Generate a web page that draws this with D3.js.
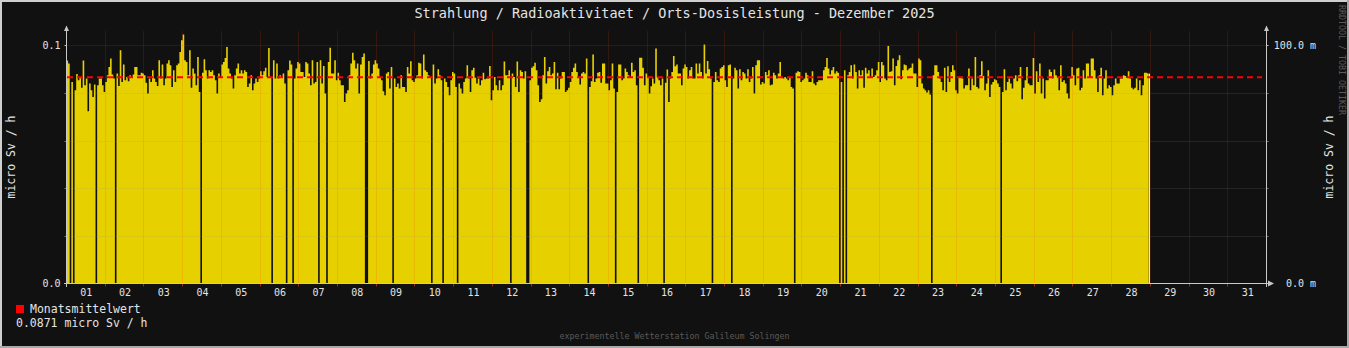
<!DOCTYPE html>
<html>
<head>
<meta charset="utf-8">
<script src="https://cdn.jsdelivr.net/npm/d3@7"></script>
<style>
  html, body { margin: 0; padding: 0; background: #111111; }
  svg { display: block; }
  text { font-family: "DejaVu Sans Mono", monospace; }
</style>
</head>
<body>
<svg id="chart" width="1349" height="348"></svg>
<script>
// ---------------- data ----------------
const chartTitle = "Strahlung / Radioaktivitaet / Orts-Dosisleistung - Dezember 2025";
const unitLabel = "micro Sv / h";
const footerText = "experimentelle Wetterstation Galileum Solingen";
const creditText = "RRDTOOL / TOBI OETIKER";
const legendName = "Monatsmittelwert";
const monthlyMean = 0.0871;
const hoursInMonth = 744;

const dayLabels = ["01","02","03","04","05","06","07","08","09","10","11","12","13","14","15","16",
  "17","18","19","20","21","22","23","24","25","26","27","28","29","30","31"];

const leftTicks = [0.0, 0.1];
const minorTicks = [0.02, 0.04, 0.06, 0.08];
const rightTickLabels = ["0.0 m", "100.0 m"];

// hourly dose rate (micro Sv / h) from 1 Dec 00:00, null = no data
const hourlyDose = [
  .0937,.0924,null,.0847,null,.0812,.0880,.0854,.0867,.0822,.0937,.0833,.0861,.0724,.0840,.0812,.0784,.0836,null,.0833,.0861,.0861,.0833,.0805,
  .0847,.0875,.0910,.0945,.0878,.0861,null,.0882,.0830,.0980,.0847,.0920,.0854,.0868,.0850,.0875,.0864,.0878,.0910,.0910,.0875,.0875,.0885,.0882,
  .0875,.0844,.0798,.0861,.0847,.0896,.0861,.0847,.0830,.0938,.0861,.0920,.0833,.0861,.0924,.0938,.0917,.0826,.0896,.0847,.0917,.0924,.0973,.1022,
  .1046,.0938,.0931,.0875,.0980,.0822,.0903,.0882,.0833,.0952,.0805,null,.0886,.0942,.0896,.0861,.0896,.0889,.0896,.0875,.0854,.0798,.0882,.0868,
  .0920,.0931,.0948,.0994,.0903,.0882,.0861,.0819,.0875,.0903,.0924,.0882,.0896,.0882,.0896,.0889,.0826,.0840,.0875,.0812,.0840,.0861,.0847,.0861,
  .0892,.0875,.0892,.0906,.0868,.0990,.0868,null,.0938,.0861,.0924,.0861,.0875,.0864,.0882,.0840,null,.0896,.0937,.0920,null,.0861,.0903,.0931,
  .0924,.0889,.0889,.0868,.0931,.0924,.0882,.0833,.0938,.0840,.0847,.0931,null,.0938,.0840,.0914,.0798,null,.0931,.0991,.0882,.0882,.0938,.0854,
  .0885,.0854,.0833,.0833,.0763,.0798,.0812,.0875,.0924,.0970,.0938,.0903,.0924,.0798,.0920,.0952,.0966,null,null,.0935,.0861,.0882,.0920,.0938,
  .0924,.0903,.0868,.0854,.0808,.0791,.0882,.0889,.0819,.0910,null,.0861,.0826,.0840,.0819,.0875,.0826,.0826,.0805,.0910,.0882,.0934,.0854,.0847,
  .0861,.0875,.0928,.0924,.0861,.0962,.0896,.0889,.0875,.0868,null,.0920,.0840,.0861,.0900,.0875,.0854,null,.0861,.0847,.0826,.0791,.0854,.0889,
  .0882,.0826,null,.0840,.0819,.0798,.0847,.0861,.0917,.0861,.0805,.0896,.0906,.0864,.0840,.0861,.0833,.0854,.0886,.0858,.0861,.0861,.0914,.0770,
  .0812,.0868,.0833,.0812,.0854,.0812,.0833,.0933,.0875,.0875,.0896,null,.0882,.0868,.0826,.0933,.0805,.0896,.0889,.0861,.0892,null,null,.0854,
  .0906,.0913,.0928,.0896,.0833,.0763,.0774,.0875,.0952,.0840,.0892,.0910,.0875,.0882,.0931,.0816,.0886,.0816,.0861,.0889,.0889,.0805,.0812,.0822,
  .0847,.0889,.0906,.0924,.0889,.0868,.0836,.0882,.0889,.0882,.0945,null,.0826,.0850,.0962,.0847,.0861,.0885,.0889,.0844,.0924,.0924,.0840,.0840,
  .0812,.0854,.0924,.0819,null,.0805,.0920,.0920,.0854,.0861,.0903,.0889,.0875,.0868,.0928,.0889,.0896,.0833,null,.0949,.0949,.0906,.0833,.0882,
  .0868,.0798,.0829,.0861,.0840,.0987,.0868,.0854,.0833,.0861,null,.0844,.0899,.0763,.0861,.0889,.0956,.0913,.0920,.0882,.0882,.0833,.0903,.0920,
  .0910,.0861,.0896,.0910,.0861,.0861,.0924,.0882,.0924,.0889,.0861,.1004,.0882,.0935,.0900,.0861,null,.0847,.0889,.0854,.0847,.0903,.0910,.0917,
  .0854,.0826,.0917,.0920,null,.0861,.0906,.0896,.0819,.0900,.0854,.0889,.0882,.0861,.0900,.0847,.0861,.0910,.0798,.0917,.0938,.0938,.0836,.0847,
  .0840,.0889,.0875,.0896,.0833,.0836,.0886,.0875,.0861,.0882,.0931,.0864,.0861,.0868,.0861,.0854,.0868,.0826,.0819,null,.0886,.0892,.0889,.0847,
  .0854,.0861,.0885,.0875,.0847,.0847,.0892,.0840,.0833,.0847,.0854,.0854,.0854,.0896,.0910,.0948,.0903,.0878,.0896,.0910,.0882,.0892,.0885,null,
  .0847,null,.0896,null,.0875,.0889,.0917,.0861,.0920,.0889,.0819,.0896,.0875,.0896,.0822,.0906,.0882,.0896,.0868,.0903,.0868,.0875,.0896,.0931,
  .0847,.0931,.0917,.0861,.0854,.0998,.0889,.0892,.0945,.0833,.0914,.0938,.0959,.0858,.0896,.0920,.0917,.0896,.0903,.0906,.0924,.0882,.0882,.0826,
  .0945,.0938,.0840,.0819,.0812,.0802,.0812,.0794,null,.0875,.0917,.0917,.0889,.0861,.0847,.0812,.0906,.0805,.0913,.0847,.0889,.0917,.0896,.0812,
  .0798,.0868,.0868,.0861,.0819,.0833,.0833,.0903,.0812,.0861,.0833,.0952,.0826,.0819,.0875,.0934,.0872,.0812,.0840,.0896,.0784,.0836,.0847,.0858,
  .0854,.0840,.0826,null,.0805,.0900,.0812,.0847,.0861,.0840,.0819,.0861,.0875,.0850,.0875,.0910,.0774,.0822,.0854,.0910,.0840,.0833,.0833,.0948,
  .0798,.0892,.0847,.0924,.0798,.0861,.0777,.0854,.0854,.0899,.0889,.0861,.0899,.0875,.0868,.0812,.0917,.0847,.0854,.0840,.0798,.0777,.0861,.0910,
  .0875,.0833,.0903,.0906,.0812,.0822,.0896,.0861,.0924,.0924,.0868,.0945,.0945,.0896,.0861,.0805,.0875,.0906,.0791,.0861,.0896,.0819,.0833,.0826,
  .0791,.0833,.0861,.0840,.0840,.0861,.0861,.0875,.0872,.0864,.0892,.0861,.0822,.0816,.0822,.0861,.0812,.0854,.0791,.0833,.0886,.0886,.0882
];

// ---------------- drawing ----------------
const svg = d3.select("#chart");
const W = 1349, H = 348;
const plotLeft = 66.5, plotRight = 1266.5, plotTop = 31.5, plotBottom = 283.5;

const x = d3.scaleLinear().domain([0, hoursInMonth]).range([plotLeft, plotRight]);
const y = d3.scaleLinear().domain([0, 0.1]).range([plotBottom, 45.5]);

const COL = {
  bg: "#111111", area: "#e6d000", axis: "#c8c8c8", text: "#e4e4e4",
  mgrid: "rgba(255,60,10,0.30)", grid: "rgba(150,150,150,0.30)",
  tick: "rgba(255,60,40,0.6)", mean: "#ff0000", dim: "#5a5a5a"
};

// background and frame
svg.append("rect").attr("width", W).attr("height", H).attr("fill", COL.bg);
svg.append("rect").attr("x", 0).attr("y", 0).attr("width", W).attr("height", 2).attr("fill", "#cfcfcf");
svg.append("rect").attr("x", 0).attr("y", 0).attr("width", 2).attr("height", H).attr("fill", "#cfcfcf");
svg.append("rect").attr("x", 0).attr("y", H - 2).attr("width", W).attr("height", 2).attr("fill", "#a8a8a8");
svg.append("rect").attr("x", W - 2).attr("y", 0).attr("width", 2).attr("height", H).attr("fill", "#a8a8a8");

// area data (step shape)
const pts = [];
hourlyDose.forEach((v, i) => {
  if (v == null) { pts.push({ gap: true }); return; }
  pts.push({ h: i, v }, { h: i + 1, v });
});
const area = d3.area()
  .defined(d => !d.gap)
  .x(d => x(d.h))
  .y0(y(0))
  .y1(d => y(d.v));
svg.append("path").datum(pts).attr("d", area).attr("fill", COL.area);

// end-of-data marker line
const lastIdx = hourlyDose.length;
svg.append("line")
  .attr("x1", Math.round(x(lastIdx)) + 0.5).attr("x2", Math.round(x(lastIdx)) + 0.5)
  .attr("y1", y(hourlyDose[lastIdx - 1])).attr("y2", y(0))
  .attr("stroke", "#f4eeb8").attr("stroke-width", 1);

// grid
const gridG = svg.append("g");
// minor horizontal
minorTicks.forEach(v => {
  const yy = Math.round(y(v)) + 0.5;
  gridG.append("line").attr("x1", plotLeft).attr("x2", plotRight).attr("y1", yy).attr("y2", yy)
    .attr("stroke", COL.grid).attr("stroke-dasharray", "1,1");
  gridG.append("line").attr("x1", plotLeft - 2).attr("x2", plotLeft).attr("y1", yy).attr("y2", yy).attr("stroke", "#777");
  gridG.append("line").attr("x1", plotRight).attr("x2", plotRight + 2).attr("y1", yy).attr("y2", yy).attr("stroke", "#777");
});
// major horizontal (0.1)
gridG.append("line").attr("x1", plotLeft).attr("x2", plotRight).attr("y1", y(0.1)).attr("y2", y(0.1))
  .attr("stroke", COL.mgrid).attr("stroke-dasharray", "1,1");
gridG.append("line").attr("x1", plotLeft - 2).attr("x2", plotLeft).attr("y1", y(0.1)).attr("y2", y(0.1)).attr("stroke", "#bbb");
gridG.append("line").attr("x1", plotRight).attr("x2", plotRight + 2).attr("y1", y(0.1)).attr("y2", y(0.1)).attr("stroke", "#bbb");
// vertical day boundaries
d3.range(1, dayLabels.length).forEach(d => {
  const xx = Math.floor(x(d * 24)) + 0.5;
  gridG.append("line").attr("x1", xx).attr("x2", xx).attr("y1", plotTop).attr("y2", plotBottom)
    .attr("stroke", COL.mgrid).attr("stroke-dasharray", "1,1");
  gridG.append("line").attr("x1", xx).attr("x2", xx).attr("y1", plotBottom).attr("y2", plotBottom + 3)
    .attr("stroke", COL.tick);
});

// mean line
svg.append("line")
  .attr("x1", plotLeft + 0.5).attr("x2", 1262)
  .attr("y1", y(monthlyMean) + 1).attr("y2", y(monthlyMean) + 1)
  .attr("stroke", COL.mean).attr("stroke-width", 2).attr("stroke-dasharray", "6,4");

// axes lines
const axG = svg.append("g").attr("shape-rendering", "crispEdges");
axG.append("line").attr("x1", plotLeft).attr("x2", plotLeft).attr("y1", plotBottom + 3).attr("y2", 30).attr("stroke", COL.axis);
axG.append("line").attr("x1", plotRight).attr("x2", plotRight).attr("y1", plotBottom + 3).attr("y2", 30).attr("stroke", COL.axis);
axG.append("line").attr("x1", plotLeft - 3).attr("x2", 1269).attr("y1", plotBottom).attr("y2", plotBottom).attr("stroke", COL.axis);
// arrows
svg.append("path").attr("d", `M${plotLeft - 2.5},31 L${plotLeft + 2.5},31 L${plotLeft},25.5 Z`).attr("fill", COL.axis);
svg.append("path").attr("d", `M${plotRight - 2.5},31 L${plotRight + 2.5},31 L${plotRight},25.5 Z`).attr("fill", COL.axis);
svg.append("path").attr("d", `M1268,${plotBottom - 3} L1268,${plotBottom + 3} L1274,${plotBottom} Z`).attr("fill", COL.axis);

// tick labels via d3 axes
const leftAxis = d3.axisLeft(y).tickValues(leftTicks).tickFormat(d3.format(".1f")).tickSize(0).tickPadding(6);
const gl = svg.append("g").attr("transform", `translate(${plotLeft},0)`).call(leftAxis);
const rightAxis = d3.axisRight(y).tickValues(leftTicks).tickFormat((d, i) => rightTickLabels[i]).tickSize(0);
const gr = svg.append("g").attr("transform", `translate(${plotRight},0)`).call(rightAxis);
gr.selectAll("text").attr("text-anchor", "end").attr("x", 1316 - plotRight);
const noonTicks = dayLabels.map((_, i) => i * 24 + 12);
const bottomAxis = d3.axisBottom(x).tickValues(noonTicks).tickFormat((d, i) => dayLabels[i]).tickSize(0).tickPadding(5);
const gb = svg.append("g").attr("transform", `translate(0,${plotBottom})`).call(bottomAxis);
[gl, gr, gb].forEach(g => {
  g.select(".domain").remove();
  g.attr("fill", null);
  g.selectAll("text").attr("fill", COL.text).style("font-family", "DejaVu Sans Mono").style("font-size", "10px");
});

// title
svg.append("text").attr("x", 674.5).attr("y", 18).attr("text-anchor", "middle")
  .attr("fill", COL.text).style("font-size", "13.5px").text(chartTitle);

// unit labels
svg.append("text").attr("transform", "translate(15,157) rotate(-90)").attr("text-anchor", "middle")
  .attr("fill", COL.text).style("font-size", "11.5px").text(unitLabel);
svg.append("text").attr("transform", "translate(1333,157) rotate(-90)").attr("text-anchor", "middle")
  .attr("fill", COL.text).style("font-size", "11.5px").text(unitLabel);

// credit
svg.append("text").attr("transform", "translate(1339,5) rotate(90)").attr("text-anchor", "start")
  .attr("fill", COL.dim).style("font-size", "8.3px").text(creditText);

// legend
svg.append("rect").attr("x", 16).attr("y", 305).attr("width", 8).attr("height", 8).attr("fill", "#ff0000");
svg.append("text").attr("x", 30).attr("y", 313).attr("fill", COL.text).style("font-size", "11.5px").text(legendName);
svg.append("text").attr("x", 16).attr("y", 327).attr("fill", COL.text).style("font-size", "11.5px")
  .text(`${monthlyMean.toFixed(4)} ${unitLabel}`);

// footer
svg.append("text").attr("x", 674.5).attr("y", 339).attr("text-anchor", "middle")
  .attr("fill", COL.dim).style("font-size", "8.3px").text(footerText);
</script>
</body>
</html>
